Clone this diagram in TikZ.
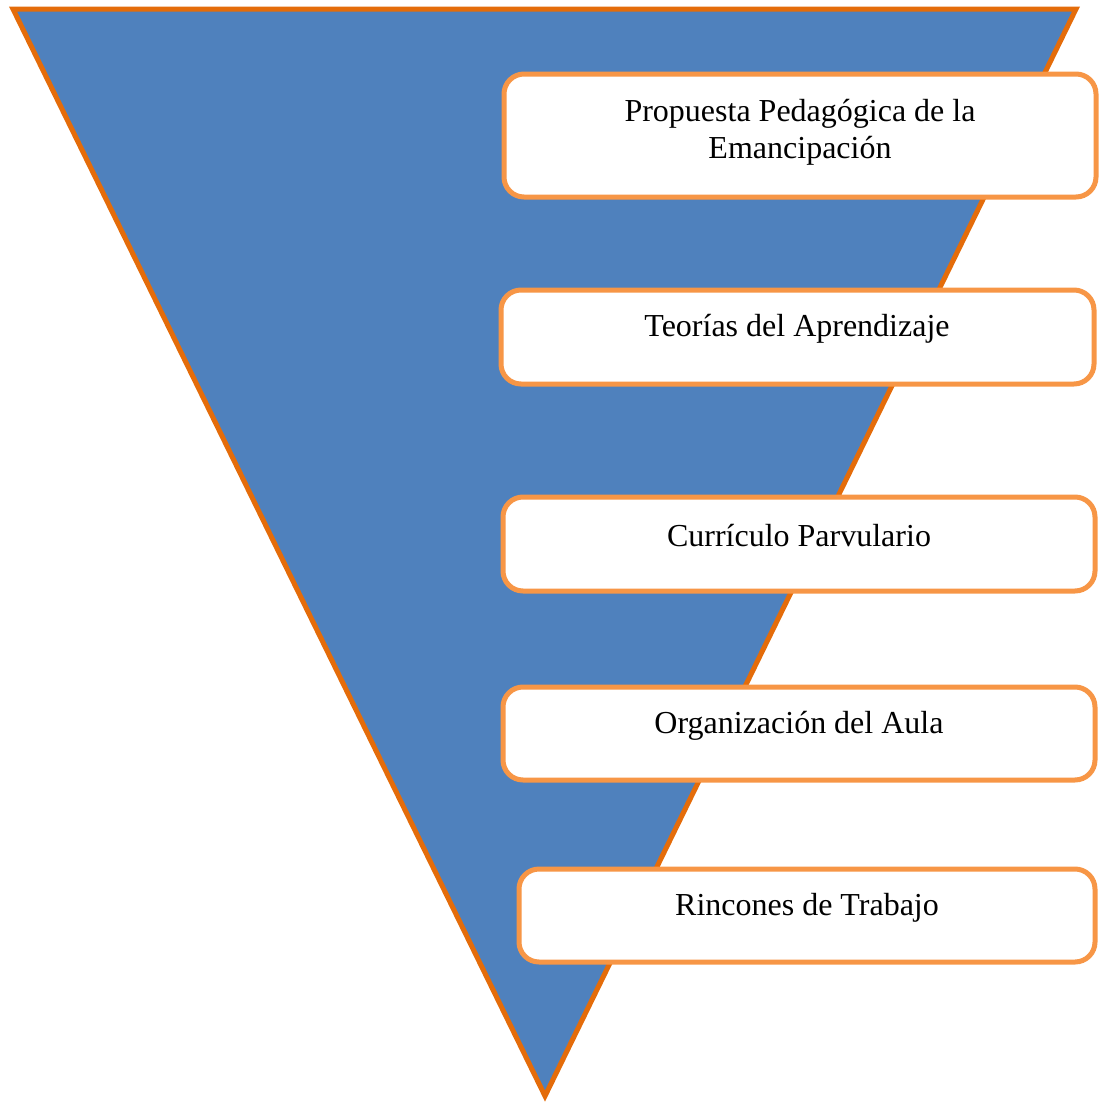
\documentclass[tikz,border=0pt]{standalone}
\usepackage{fontspec}
\setmainfont{Liberation Serif}
\definecolor{triblue}{HTML}{4F81BD}
\definecolor{triedge}{HTML}{E46C0A}
\definecolor{boxedge}{HTML}{F79646}
\begin{document}
\begin{tikzpicture}[x=1pt,y=-1pt,
  stage/.style={draw=boxedge,line width=5pt,fill=white,rounded corners=20pt},
  label/.style={font=\fontsize{32}{37}\selectfont,align=center,inner sep=0pt}]
\useasboundingbox (0,0) rectangle (1099,1103);
\draw[triedge,fill=triblue,line width=5pt,line join=miter] (13,9) -- (1076,9) -- (545,1096) -- cycle;
\node[stage,minimum width=592pt,minimum height=123pt] (b1) at (800,135.5) {};
\node[stage,minimum width=593pt,minimum height=94pt] (b2) at (797.5,337) {};
\node[stage,minimum width=592pt,minimum height=94pt] (b3) at (799,544) {};
\node[stage,minimum width=592pt,minimum height=93pt] (b4) at (799,733.5) {};
\node[stage,minimum width=576pt,minimum height=93pt] (b5) at (807,915.5) {};
\node[label] (t1) at (800,132.5) {Propuesta Pedagógica de la\\Emancipación};
\node[label] (t2) at (797,329) {Teorías del Aprendizaje};
\node[label] (t3) at (799,536) {Currículo Parvulario};
\node[label] (t4) at (799,726) {Organización del Aula};
\node[label] (t5) at (807,908) {Rincones de Trabajo};
\end{tikzpicture}
\end{document}
